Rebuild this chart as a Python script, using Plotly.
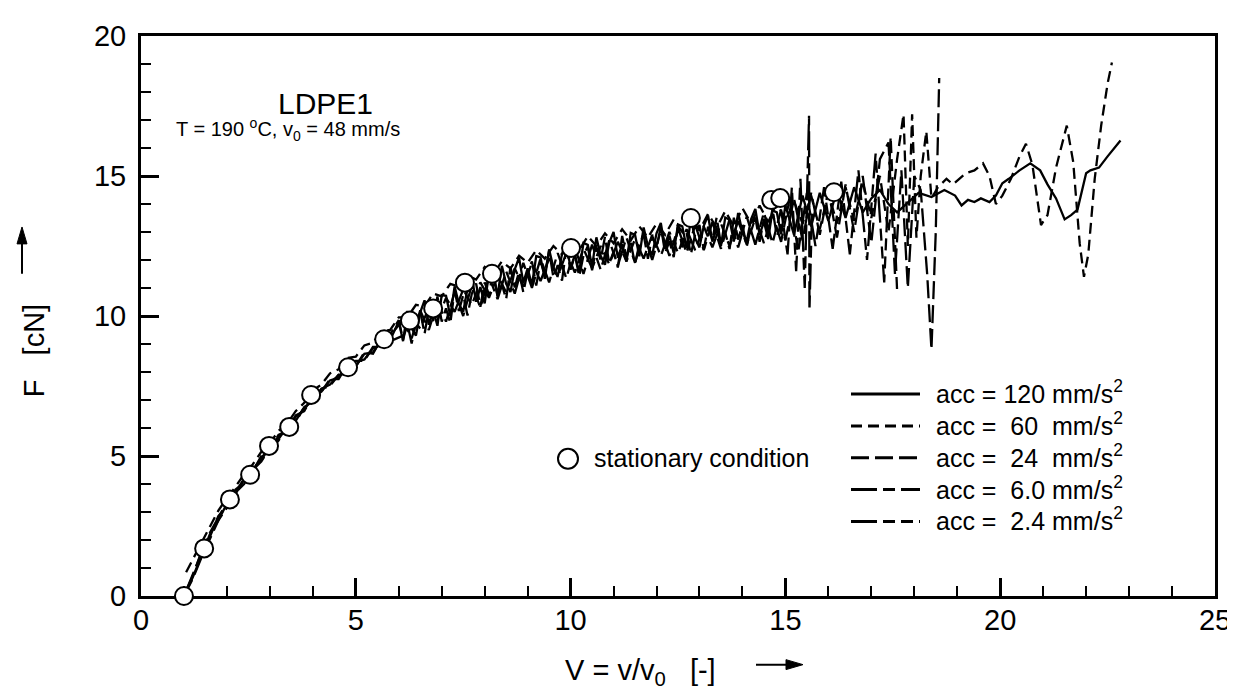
import plotly.graph_objects as go

# ---------------- data ----------------
stat_V = [1.0, 1.47, 2.07, 2.54, 2.98, 3.45, 3.96, 4.82, 5.66, 6.26, 6.8, 7.54, 8.17, 10.01, 12.8, 14.67, 14.88, 16.13]
stat_F = [0.0, 1.7, 3.45, 4.33, 5.36, 6.04, 7.18, 8.17, 9.17, 9.84, 10.27, 11.19, 11.51, 12.43, 13.5, 14.14, 14.21, 14.42]

early_V = [1.0, 1.2, 1.4, 1.6, 1.8, 2.0, 2.2, 2.4, 2.6, 2.8, 3.0, 3.2, 3.4, 3.6, 3.8, 4.0, 4.2, 4.4, 4.6, 4.8,
           5.0, 5.2, 5.4, 5.6, 5.8]
fine_V = [6.0, 6.1, 6.2, 6.3, 6.4, 6.5, 6.6, 6.7, 6.8, 6.9, 7.0, 7.1, 7.2, 7.3, 7.4, 7.5, 7.6, 7.7, 7.8, 7.9,
          8.0, 8.1, 8.2, 8.3, 8.4, 8.5, 8.6, 8.7, 8.8, 8.9, 9.0, 9.1, 9.2, 9.3, 9.4, 9.5, 9.6, 9.7, 9.8, 9.9,
          10.0, 10.1, 10.2, 10.3, 10.4, 10.5, 10.6, 10.7, 10.8, 10.9, 11.0, 11.1, 11.2, 11.3, 11.4, 11.5, 11.6, 11.7, 11.8, 11.9,
          12.0, 12.1, 12.2, 12.3, 12.4, 12.5, 12.6, 12.7, 12.8, 12.9, 13.0, 13.1, 13.2, 13.3, 13.4, 13.5, 13.6, 13.7, 13.8, 13.9,
          14.0, 14.1, 14.2, 14.3, 14.4, 14.5, 14.6, 14.7, 14.8, 14.9, 15.0]
even_V = [6.0, 6.2, 6.4, 6.6, 6.8, 7.0, 7.2, 7.4, 7.6, 7.8, 8.0, 8.2, 8.4, 8.6, 8.8, 9.0, 9.2, 9.4, 9.6, 9.8,
          10.0, 10.2, 10.4, 10.6, 10.8, 11.0, 11.2, 11.4, 11.6, 11.8, 12.0, 12.2, 12.4, 12.6, 12.8, 13.0, 13.2, 13.4, 13.6, 13.8,
          14.0, 14.2, 14.4, 14.6, 14.8]
odd_V = [6.1, 6.3, 6.5, 6.7, 6.9, 7.1, 7.3, 7.5, 7.7, 7.9, 8.1, 8.3, 8.5, 8.7, 8.9, 9.1, 9.3, 9.5, 9.7, 9.9,
         10.1, 10.3, 10.5, 10.7, 10.9, 11.1, 11.3, 11.5, 11.7, 11.9, 12.1, 12.3, 12.5, 12.7, 12.9, 13.1, 13.3, 13.5, 13.7, 13.9,
         14.1, 14.3, 14.5, 14.7, 14.9]

# acc = 120 mm/s^2 (solid)
a120_V = early_V + fine_V + [15.2, 15.4, 15.6, 15.8, 16.0, 16.2, 16.4, 16.6, 16.8, 17.0,
                             17.2, 17.4, 17.6, 17.9, 18.1, 18.4, 18.7, 18.95, 19.1, 19.25, 19.4, 19.55, 19.75, 19.9, 20.05,
                             20.2, 20.45, 20.7, 20.93, 21.1, 21.3, 21.5, 21.65, 21.8, 21.9, 22.0, 22.1, 22.3, 22.5, 22.65,
                             22.8, 22.9]
a120_F = [0.0, 0.65, 1.4, 2.2, 2.7, 3.3, 3.65, 4.15, 4.45, 4.95, 5.25, 5.7, 5.9, 6.4, 6.65, 7.1, 7.3, 7.7, 7.8, 8.2,
          8.2, 8.65, 8.7, 9.15, 9.15,
          9.80, 9.10, 10.18, 9.57, 9.30, 10.13, 10.56, 9.69, 10.22, 9.65, 10.75, 10.72, 9.99, 11.06, 10.43, 10.15, 10.97, 11.39,
          10.51, 11.03, 10.45, 11.51, 11.47, 10.73, 11.79, 11.15, 10.86, 11.67, 12.08, 11.19, 11.70, 11.10, 12.14, 12.09, 11.33,
          12.38, 11.72, 11.42, 12.21, 12.60, 11.70, 12.19, 11.57, 12.61, 12.54, 11.78, 12.81, 12.15, 11.83, 12.62, 13.00, 12.08,
          12.56, 11.94, 12.97, 12.90, 12.13, 13.16, 12.49, 12.17, 12.95, 13.32, 12.40, 12.87, 12.25, 13.27, 13.20, 12.42, 13.45,
          12.77, 12.45, 13.22, 13.59, 12.66, 13.13, 12.50, 13.52, 13.44, 12.66, 13.68, 13.00, 12.67, 13.45, 13.82, 12.90, 13.37,
          12.75, 13.77, 13.70, 12.92, 13.95,
          12.9, 14.3, 13.2, 14.4, 13.4, 14.5, 13.5, 14.6, 13.7,
          14.2, 14.5, 14.0, 13.7, 14.1, 14.4, 14.25, 14.5, 14.3, 13.95, 14.15, 14.07, 14.2, 14.07, 14.3,
          14.74, 14.9, 15.2, 15.45, 15.2, 14.7, 14.2, 13.45, 13.6, 13.8, 14.4, 15.1, 15.2, 15.3, 15.7, 16.0, 16.27]

# acc = 60 mm/s^2 (short dash)
a60_V = [1.05] + early_V[1:] + even_V + [15.0, 15.2, 15.4, 15.6, 15.8, 16.0, 16.2, 16.4, 16.6, 16.8, 17.0,
                                         17.2, 17.4, 17.6, 17.75, 17.85, 17.95, 18.05, 18.15, 18.28, 18.4, 18.55, 18.75,
                                         18.9, 19.05, 19.2, 19.4, 19.6, 19.75, 19.9, 20.05, 20.25, 20.45, 20.6, 20.75,
                                         20.95, 21.1, 21.3, 21.55, 21.7, 21.85, 21.95, 22.05, 22.2, 22.35, 22.5, 22.6]
a60_F = [0.85, 1.3, 1.9, 2.5, 3.05, 3.5, 3.9, 4.35, 4.7, 5.15, 5.45, 5.9, 6.15, 6.6, 6.9, 7.35, 7.55, 7.95, 8.1, 8.5,
         8.55, 8.95, 9.05, 9.45, 9.5,
         9.95, 9.95, 10.4, 10.35, 10.8, 10.7, 11.15, 11.05, 11.45, 11.3, 11.75, 11.5, 11.95, 11.7, 12.15,
         11.9, 12.35, 12.05, 12.5, 12.2, 12.7, 12.35, 12.85, 12.5, 12.95, 12.6, 13.1, 12.7, 13.2, 12.8, 13.3, 12.9, 13.45, 13.0, 13.55,
         13.05, 13.65, 13.15, 13.75, 13.2, 13.85, 13.3, 13.95, 13.35, 14.05,
         13.4, 14.1, 13.3, 14.3, 13.1, 14.4, 13.3, 14.6, 13.4, 14.8, 13.5,
         15.0, 13.0, 15.6, 17.2, 12.5, 17.2, 12.8, 15.0, 16.6, 14.2, 14.6, 14.9, 14.7,
         14.9, 15.1, 15.2, 15.45, 15.0, 14.0, 14.3, 14.9, 15.7, 16.15, 15.4, 13.25, 13.6,
         15.3, 16.8, 15.5, 12.6, 11.4, 12.2, 14.9, 16.8, 18.3, 19.05]

# acc = 24 mm/s^2 (long dash)
a24_V = early_V + fine_V + [15.2, 15.4, 15.6, 15.8, 16.0, 16.2, 16.4, 16.6, 16.8, 17.0,
                            17.2, 17.4, 17.55, 17.7, 17.85, 18.0, 18.15, 18.3, 18.4, 18.5, 18.58, 18.68]
a24_F = [0.0, 0.6, 1.35, 2.05, 2.7, 3.15, 3.7, 4.0, 4.5, 4.8, 5.3, 5.55, 6.0, 6.2, 6.75, 6.95, 7.4, 7.5, 7.9, 7.95,
         8.4, 8.4, 8.9, 8.9, 9.35,
         9.85, 9.15, 9.73, 9.02, 9.80, 10.18, 9.36, 10.24, 9.82, 10.70, 9.80, 10.27, 9.74, 10.91, 10.18, 10.75, 10.02, 10.79,
         11.16, 10.33, 11.20, 10.76, 11.62, 10.68, 11.14, 10.60, 11.76, 11.02, 11.58, 10.84, 11.60, 11.95, 11.09, 11.94, 11.48,
         12.33, 11.37, 11.82, 11.26, 12.40, 11.65, 12.19, 11.42, 12.16, 12.49, 11.63, 12.46, 12.00, 12.83, 11.87, 12.30, 11.73,
         12.86, 12.09, 12.62, 11.85, 12.58, 12.91, 12.04, 12.87, 12.40, 13.22, 12.25, 12.67, 12.10, 13.22, 12.45, 12.97, 12.20,
         12.92, 13.25, 12.37, 13.19, 12.71, 13.53, 12.55, 12.97, 12.39, 13.51, 12.73, 13.25, 12.47, 13.20, 13.52, 12.65, 13.47,
         13.00, 13.82, 12.85, 13.27, 12.70,
         14.2, 12.7, 14.4, 12.9, 14.5, 12.8, 14.7, 13.0, 15.0,
         12.6, 15.6, 16.2, 11.5, 15.2, 11.0, 15.0, 14.5, 11.5, 8.8, 13.0, 18.5]

# acc = 6.0 mm/s^2 (long-short dash)
a6_V = early_V + odd_V + [15.05, 15.15, 15.25, 15.35, 15.45, 15.5, 15.55, 15.56, 15.62]
a6_F = [0.0, 0.75, 1.5, 2.1, 2.85, 3.2, 3.8, 4.05, 4.55, 4.85, 5.35, 5.6, 6.05, 6.25, 6.75, 7.0, 7.4, 7.55, 7.9, 8.0,
        8.35, 8.45, 8.85, 8.95, 9.3,
        9.85, 9.2, 10.2, 9.5, 10.5, 9.8, 10.85, 10.0, 11.1, 10.3, 11.4, 10.6, 11.6, 10.8, 11.9, 11.0, 12.05, 11.2, 12.25, 11.35,
        12.45, 11.5, 12.55, 11.65, 12.7, 11.8, 12.8, 11.9, 12.95, 12.0, 13.05, 12.15, 13.15, 12.25, 13.25, 12.35, 13.35, 12.4, 13.45, 12.45,
        13.55, 12.55, 13.7, 12.6, 13.8,
        12.2, 14.6, 11.6, 14.9, 11.0, 14.2, 17.15, 10.2, 13.8]

# acc = 2.4 mm/s^2 (long-short-short dash)
a2_V = early_V + odd_V + [15.1, 15.3, 15.5, 15.7, 15.9, 16.1, 16.3, 16.5, 16.7, 16.9, 17.1, 17.3, 17.45, 17.6]
a2_F = [0.0, 0.7, 1.55, 2.25, 2.8, 3.35, 3.7, 4.2, 4.45, 5.0, 5.25, 5.75, 5.9, 6.45, 6.6, 7.15, 7.3, 7.75, 7.75, 8.25,
        8.2, 8.7, 8.65, 9.2, 9.1,
        9.3, 9.95, 9.55, 10.3, 9.85, 10.65, 10.15, 10.95, 10.4, 11.2, 10.65, 11.45, 10.85, 11.7, 11.05, 11.9, 11.25, 12.05, 11.4, 12.25,
        11.55, 12.4, 11.7, 12.5, 11.85, 12.65, 11.95, 12.75, 12.05, 12.9, 12.15, 13.0, 12.25, 13.1, 12.35, 13.2, 12.45, 13.3, 12.5, 13.4,
        12.55, 13.5, 12.6, 13.65, 12.65,
        14.2, 12.3, 14.4, 12.5, 14.6, 12.4, 14.8, 12.2, 15.2, 12.0, 15.8, 11.2, 16.4, 10.9]

series_names = ["acc = 120 mm/s<sup>2</sup>", "acc =  60  mm/s<sup>2</sup>", "acc =  24  mm/s<sup>2</sup>",
                "acc =  6.0 mm/s<sup>2</sup>", "acc =  2.4 mm/s<sup>2</sup>"]
series_V = [a120_V, a60_V, a24_V, a6_V, a2_V]
series_F = [a120_F, a60_F, a24_F, a6_F, a2_F]
x_ticks = [0, 5, 10, 15, 20, 25]
y_ticks = [0, 5, 10, 15, 20]

# ---------------- styles ----------------
FONT = "Liberation Sans, Arial, sans-serif"
dashes = ["solid", "11px,6px", "18px,6px", "26px,6px,12px,6px", "26px,6px,12px,6px,12px,6px"]
LW = 2.3

W, H = 1235, 689
L, R, T, B = 133, 1207, 25, 588


def px(xp):
    return (xp - L) / (R - L)


def py(yp):
    return (B - yp) / (B - T)


fig = go.Figure()
for name, vx, fy, d in zip(series_names, series_V, series_F, dashes):
    fig.add_trace(go.Scatter(x=vx, y=fy, mode="lines", name=name, showlegend=False,
                             line=dict(color="black", width=LW, dash=d)))

fig.add_trace(go.Scatter(x=stat_V, y=stat_F, mode="markers", name="stationary condition", showlegend=False,
                         cliponaxis=False,
                         marker=dict(symbol="circle", size=18, color="white", line=dict(color="black", width=2))))

shapes = []
annotations = []

# custom legend for the curves
rows = [385, 417, 449, 481, 513]
for name, d, yr in zip(series_names, dashes, rows):
    shapes.append(dict(type="line", xref="paper", yref="paper", x0=px(843), x1=px(912), y0=py(yr), y1=py(yr),
                       line=dict(color="black", width=3, dash=d)))
    annotations.append(dict(xref="paper", yref="paper", x=px(926), y=py(yr - 2), xanchor="left", yanchor="middle",
                            text=name, showarrow=False, font=dict(family=FONT, size=25, color="black")))

# stationary condition legend
shapes.append(dict(type="circle", xref="paper", yref="paper", x0=px(550), x1=px(570), y0=py(460), y1=py(440),
                   line=dict(color="black", width=2), fillcolor="white"))
annotations.append(dict(xref="paper", yref="paper", x=px(584), y=py(449), xanchor="left", yanchor="middle",
                        text="stationary condition", showarrow=False, font=dict(family=FONT, size=25, color="black")))

# in-plot labels
annotations.append(dict(xref="paper", yref="paper", x=px(317), y=py(93), xanchor="center", yanchor="middle",
                        text="LDPE1", showarrow=False, font=dict(family=FONT, size=30, color="black")))
annotations.append(dict(xref="paper", yref="paper", x=px(166), y=py(119), xanchor="left", yanchor="middle",
                        text="T = 190 <sup>o</sup>C, v<sub>0</sub> = 48 mm/s", showarrow=False,
                        font=dict(family=FONT, size=20, color="black")))

# axis titles
annotations.append(dict(xref="paper", yref="paper", x=px(632), y=py(664), xanchor="center", yanchor="middle",
                        text="V = v/v<sub>0</sub>   [-]", showarrow=False, font=dict(family=FONT, size=29, color="black")))
annotations.append(dict(xref="paper", yref="paper", x=px(26), y=py(342), xanchor="center", yanchor="middle",
                        text="F   [cN]", textangle=-90, showarrow=False, font=dict(family=FONT, size=29, color="black")))

# arrows next to the axis titles
shapes.append(dict(type="line", xref="paper", yref="paper", x0=px(748), x1=px(782), y0=py(657), y1=py(657),
                   line=dict(color="black", width=2)))
shapes.append(dict(type="path", xref="paper", yref="paper", fillcolor="black", line=dict(color="black", width=1),
                   path=f"M {px(778)} {py(652)} L {px(795)} {py(657)} L {px(778)} {py(662)} Z"))
shapes.append(dict(type="line", xref="paper", yref="paper", x0=px(14), x1=px(14), y0=py(264), y1=py(230),
                   line=dict(color="black", width=2)))
shapes.append(dict(type="path", xref="paper", yref="paper", fillcolor="black", line=dict(color="black", width=1),
                   path=f"M {px(9)} {py(234)} L {px(14)} {py(217)} L {px(19)} {py(234)} Z"))

axis_common = dict(showline=True, linewidth=3, linecolor="black", mirror=True, showgrid=False, zeroline=False,
                   ticks="inside", ticklen=18, tickwidth=2.5, tickcolor="black",
                   tickfont=dict(family=FONT, size=29, color="black"), layer="below traces")

fig.update_xaxes(range=[0, 25], tickvals=x_ticks, ticklabelstandoff=-4,
                 minor=dict(ticks="inside", ticklen=10, tickwidth=2, dtick=1, tickcolor="black"), **axis_common)
fig.update_yaxes(range=[0, 20], tickvals=y_ticks, ticklabelstandoff=6,
                 minor=dict(ticks="inside", ticklen=10, tickwidth=2, dtick=1, tickcolor="black"), **axis_common)

fig.update_layout(width=W, height=H, margin=dict(l=L, r=W - R, t=T, b=H - B),
                  paper_bgcolor="white", plot_bgcolor="white", showlegend=False,
                  shapes=shapes, annotations=annotations, font=dict(family=FONT, color="black"))

fig.write_html("out.html")
